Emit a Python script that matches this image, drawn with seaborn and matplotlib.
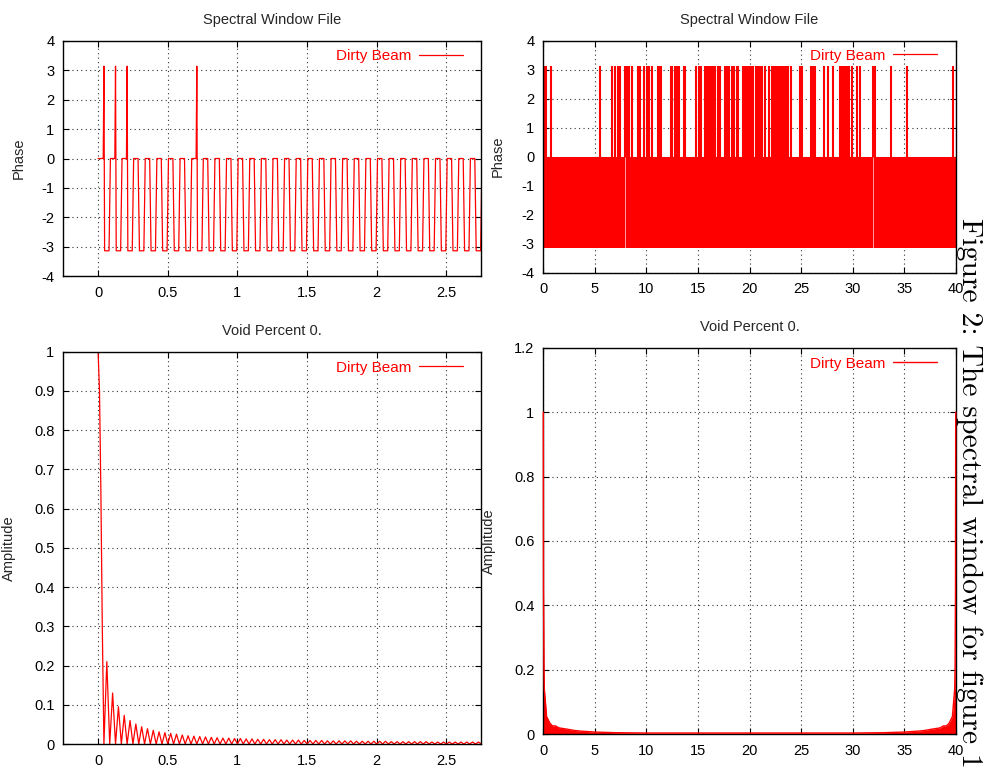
"""Spectral window of the sampling pattern (dirty beam): phase and amplitude.

Left column is a close-up of the first 2.75 cycles/day, right column the full
0-40 range, which folds back on itself at 40.
"""

import matplotlib
matplotlib.use("Agg")
import matplotlib.pyplot as plt
from matplotlib.ticker import MultipleLocator, FormatStrFormatter
import numpy as np
import pandas as pd
import seaborn as sns

RED = "#ff0000"
PI = 3.1416

# ---------------------------------------------------------------------------
# values
# ---------------------------------------------------------------------------

# close-up panels: twelve phase cycles per unit -> one lobe every 1/24
lobe_width = 0.0417
n_lobes = 66
# lobes whose 0 -> -pi step wraps up through +pi first
spike_lobes = [1, 3, 5, 17]

main_lobe_x = [0.0, 0.010, 0.020, 0.030, 0.0417]
main_lobe_amp = [1.0, 0.90, 0.64, 0.30, 0.0]
sidelobe_peaks = [
    0.210, 0.130, 0.095, 0.073, 0.060, 0.051, 0.044, 0.039, 0.035, 0.031,
    0.029, 0.027, 0.025, 0.023, 0.021, 0.020, 0.019, 0.018, 0.017, 0.016,
    0.015, 0.015, 0.014, 0.014, 0.013, 0.013, 0.012, 0.012, 0.011, 0.011,
    0.011, 0.010, 0.010, 0.010, 0.009, 0.009, 0.009, 0.009, 0.008, 0.008,
    0.008, 0.008, 0.008, 0.007, 0.007, 0.007, 0.007, 0.007, 0.007, 0.006,
    0.006, 0.006, 0.006, 0.006, 0.006, 0.006, 0.005, 0.005, 0.005, 0.005,
    0.005, 0.005, 0.005, 0.005, 0.005,
]

# full range: phase band 0..-pi is solid at this scale, +pi spikes stick out
band_x = [0.0, 40.0]
band_low = [-PI, -PI]
band_high = [0.0, 0.0]
wrap_spikes = [
    0.05, 0.15, 0.25, 0.72, 5.5, 6.62, 7.0, 7.2, 7.4, 7.88, 8.08, 8.32, 8.56,
    9.15, 9.34, 9.73, 10.1, 10.3, 10.5, 11.1, 11.2, 11.43, 12.35, 12.5, 12.8,
    13.0, 13.15, 13.6, 13.75, 14.79, 15.1, 15.25, 15.65, 15.85, 16.05, 16.25,
    16.5, 16.7, 16.9, 17.1, 17.6, 17.85, 18.05, 18.35, 18.5, 18.75, 18.9,
    19.4, 19.55, 19.7, 19.85, 20.0, 20.15, 20.3, 20.6, 20.8, 21.05, 21.2,
    21.5, 21.85, 22.15, 22.35, 22.55, 22.75, 22.95, 23.15, 23.35, 23.55,
    23.75, 24.05, 24.85, 25.05, 25.95, 26.15, 26.33, 27.2, 27.6, 28.08,
    28.75, 28.95, 29.15, 29.3, 29.5, 29.65, 29.97, 30.4, 30.75, 31.95, 32.15,
    33.7, 35.3, 39.78,
]
band_gaps = [7.9, 31.95]

# amplitude envelope over the first half; the second half mirrors it about 20
env_x = [0.0, 0.02, 0.06, 0.1, 0.16, 0.32, 0.65, 0.9, 1.2, 1.5, 2.3, 3.0,
         3.6, 5.0, 7.0, 10.0, 15.0, 20.0]
env_amp = [1.0, 0.45, 0.21, 0.14, 0.117, 0.055, 0.034, 0.026, 0.026, 0.02,
           0.016, 0.012, 0.010, 0.007, 0.005, 0.004, 0.004, 0.004]

# ---------------------------------------------------------------------------
# style
# ---------------------------------------------------------------------------

sns.set_theme(style="ticks")
plt.rcParams.update({
    "font.family": ["Liberation Sans", "DejaVu Sans"],
    "font.size": 10.5,
    "axes.unicode_minus": False,
    "axes.linewidth": 1.0,
    "axes.edgecolor": "black",
    "axes.titlesize": 10.5,
    "axes.labelsize": 10.5,
    "xtick.labelsize": 10.5,
    "ytick.labelsize": 10.5,
    "xtick.color": "black",
    "ytick.color": "black",
})


def phase_curve():
    """Step curve 0 / -pi per lobe, with the wrap-through-+pi spikes."""
    xs, ys = [0.0], [0.0]
    level = 0.0
    ramp = 0.005
    for k in range(1, n_lobes + 1):
        edge = k * lobe_width
        new = -PI if k % 2 else 0.0
        xs.append(edge - ramp)
        ys.append(level)
        if k in spike_lobes:
            xs.append(edge)
            ys.append(PI)
        xs.append(edge + ramp)
        ys.append(new)
        level = new
    return pd.DataFrame({"freq": xs, "phase": ys})


def amp_curve():
    xs, ys = list(main_lobe_x), list(main_lobe_amp)
    for k, peak in enumerate(sidelobe_peaks, start=1):
        xs += [(k + 0.5) * lobe_width, (k + 1) * lobe_width]
        ys += [peak, 0.0]
    return pd.DataFrame({"freq": xs, "amp": ys})


def style_axes(ax, title, ylabel, label_x, xmaj, ymaj):
    ax.set_title(title, pad=12)
    ax.set_ylabel(ylabel)
    ax.set_xlabel("")
    ax.yaxis.set_label_coords(label_x, 0.5)
    ax.xaxis.set_major_locator(MultipleLocator(xmaj))
    ax.yaxis.set_major_locator(MultipleLocator(ymaj))
    ax.xaxis.set_major_formatter(FormatStrFormatter("%g"))
    ax.yaxis.set_major_formatter(FormatStrFormatter("%g"))
    ax.tick_params(direction="in", length=4.3, width=0.8, top=True, right=True,
                   pad=6.5)
    ax.tick_params(axis="x", pad=7)
    ax.grid(True, color="0.2", linestyle=(0, (1, 3)), linewidth=0.8)
    ax.set_axisbelow(True)
    for s in ax.spines.values():
        s.set_visible(True)


def add_legend(ax, dx, dy):
    ax.legend(loc="upper right", bbox_to_anchor=(1 - dx, 1 - dy),
              frameon=False, markerfirst=False, labelcolor=RED,
              handlelength=2.9, handletextpad=0.5, borderpad=0,
              borderaxespad=0)


W, H = 999, 770
fig = plt.figure(figsize=(W / 100, H / 100), dpi=100)


def axes_px(left, top, right, bottom):
    return fig.add_axes([left / W, 1 - bottom / H, (right - left) / W,
                         (bottom - top) / H])


ax_tl = axes_px(63.3, 41, 481, 276)
ax_tr = axes_px(543.3, 40.7, 955.7, 272.7)
ax_bl = axes_px(63.3, 351.7, 481, 744)
ax_br = axes_px(543.3, 347.7, 955.7, 734.3)

# top left: phase close-up
sns.lineplot(data=phase_curve(), x="freq", y="phase", ax=ax_tl, color=RED,
             linewidth=0.9, sort=False, estimator=None, label="Dirty Beam")
ax_tl.set_xlim(-0.25, 2.75)
ax_tl.set_ylim(-4, 4)
style_axes(ax_tl, "Spectral Window File", "Phase", -0.091, 0.5, 1)
add_legend(ax_tl, 18 / 418, 8 / 235)

# top right: phase full range
ax_tr.fill_between(band_x, band_low, band_high, color=RED, linewidth=0)
ax_tr.vlines(wrap_spikes, 0, PI, color=RED, linewidth=1.5)
ax_tr.vlines(band_gaps, -PI, 0, color="white", linewidth=0.6, alpha=0.7)
ax_tr.plot([], [], color=RED, linewidth=0.9, label="Dirty Beam")
ax_tr.set_xlim(0, 40)
ax_tr.set_ylim(-4, 4)
style_axes(ax_tr, "Spectral Window File", "Phase", -0.093, 5, 1)
add_legend(ax_tr, 18.7 / 412, 8 / 232)

# bottom left: amplitude close-up
sns.lineplot(data=amp_curve(), x="freq", y="amp", ax=ax_bl, color=RED,
             linewidth=0.9, sort=False, estimator=None, label="Dirty Beam")
ax_bl.set_xlim(-0.25, 2.75)
ax_bl.set_ylim(0, 1)
style_axes(ax_bl, "Void Percent 0.", "Amplitude", -0.113, 0.5, 0.1)
add_legend(ax_bl, 18 / 418, 9 / 392)

# bottom right: amplitude full range, symmetric about 20
ex = np.array(env_x)
ea = np.array(env_amp)
env = pd.DataFrame({"freq": np.concatenate([ex, 40 - ex[::-1]]),
                    "amp": np.concatenate([ea, ea[::-1]])})
ax_br.fill_between(env["freq"], 0, env["amp"], color=RED, linewidth=0)
sns.lineplot(data=env, x="freq", y="amp", ax=ax_br, color=RED, linewidth=1.0,
             sort=False, estimator=None, label="Dirty Beam")
for line in ax_br.lines:
    line.set_clip_on(False)
    line.set_zorder(3)
ax_br.set_xlim(0, 40)
ax_br.set_ylim(0, 1.2)
style_axes(ax_br, "Void Percent 0.", "Amplitude", -0.115, 5, 0.2)
add_legend(ax_br, 18.7 / 412, 9 / 387)

# caption of the page the plot was cut from
fig.text(962 / W, 1 - 218 / H, "Figure 2: The spectral window for figure 1",
         rotation=270, rotation_mode="anchor", ha="left", va="baseline",
         fontfamily="cmr10", fontsize=21.3, color="black")

fig.savefig("out.png", dpi=100)
